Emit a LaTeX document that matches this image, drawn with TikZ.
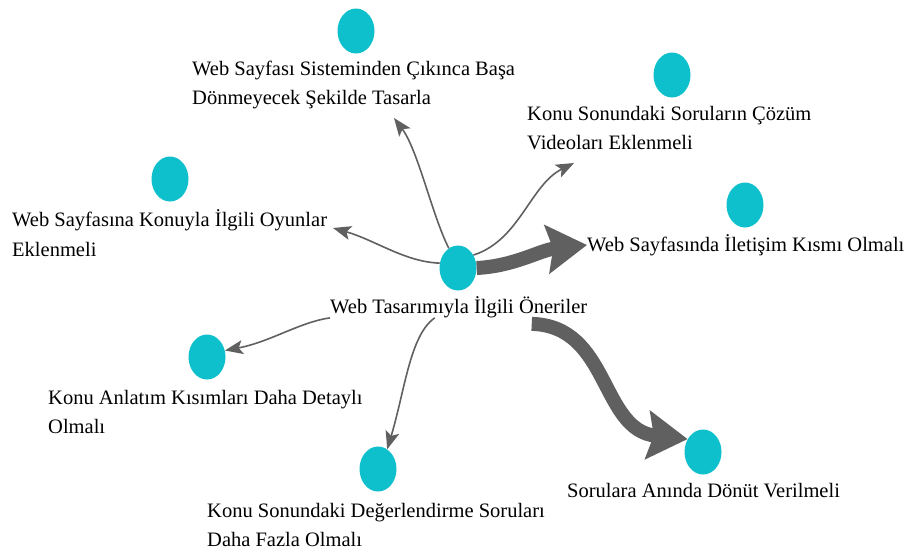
\documentclass[tikz,border=0pt]{standalone}
\usepackage{fontspec}
\setmainfont{Liberation Serif}
\newfontfamily\capfont{Liberation Serif}
\usetikzlibrary{arrows.meta,shapes.geometric}
\definecolor{dotteal}{RGB}{14,191,204}
\definecolor{linkgray}{RGB}{96,96,96}

\begin{document}
\begin{tikzpicture}[x=1pt,y=-1pt,
  dot/.style={ellipse,fill=dotteal,minimum width=37pt,minimum height=45pt,inner sep=0pt},
  caption/.style={anchor=west,align=left,inner sep=0pt,font=\capfont\fontsize{20.5}{29.5}\selectfont},
  thinlink/.style={draw=linkgray,line width=1.6pt,-{Stealth[length=18pt,width=14pt,inset=4pt]}},
  thicklink/.style={draw=linkgray,line width=14pt,-{Stealth[length=40pt,width=48pt,inset=6pt]}}]

\useasboundingbox (0,0) rectangle (905,555);

% centre
\node[dot] (Main) at (458,268) {};
\node[caption] (MainText) at (330,307) {Web Tasarımıyla İlgili Öneriler};

% top
\node[dot] (DotTop) at (356,31) {};
\node[caption] (TextTop) at (192,85) {Web Sayfası Sisteminden Çıkınca Başa\\Dönmeyecek Şekilde Tasarla};

\node[dot] (DotTopRight) at (672,75) {};
\node[caption] (TextTopRight) at (527,128) {Konu Sonundaki Soruların Çözüm\\Videoları Eklenmeli};

\node[dot] (DotRight) at (745,205) {};
\node[caption] (TextRight) at (587,245) {Web Sayfasında İletişim Kısmı Olmalı};

\node[dot] (DotLeft) at (170,179) {};
\node[caption] (TextLeft) at (12,233) {Web Sayfasına Konuyla İlgili Oyunlar\\Eklenmeli};

% bottom
\node[dot] (DotLowLeft) at (207,357) {};
\node[caption] (TextLowLeft) at (48,412) {Konu Anlatım Kısımları Daha Detaylı\\Olmalı};

\node[dot] (DotBottom) at (378,469) {};
\node[caption] (TextBottom) at (207,525) {Konu Sonundaki Değerlendirme Soruları\\Daha Fazla Olmalı};

\node[dot] (DotBottomRight) at (703,452) {};
\node[caption] (TextBottomRight) at (567,491) {Sorulara Anında Dönüt Verilmeli};

\coordinate (TipTop) at (394,118);
\coordinate (TipTopRight) at (574,163);
\coordinate (TipLeft) at (333,228);


\draw[thinlink] (Main.165) .. controls (405,262) and (375,240) .. (TipLeft);
\draw[thinlink] (Main.115) .. controls (432,215) and (418,150) .. (TipTop);
\draw[thinlink] (Main.40) .. controls (520,240) and (530,185) .. (TipTopRight);
\draw[thicklink] (Main.east) .. controls (515,266) and (540,250) .. (TextRight.west);

\draw[thinlink] (MainText.south west) .. controls (300,322) and (270,342) .. (DotLowLeft.20);
\draw[thinlink] ([xshift=-24pt]MainText.south) .. controls (410,335) and (405,390) .. (DotBottom.65);
\draw[thicklink] ([xshift=73pt,yshift=-6pt]MainText.south) .. controls (610,326) and (600,430) .. (DotBottomRight.140);

\end{tikzpicture}
\end{document}
